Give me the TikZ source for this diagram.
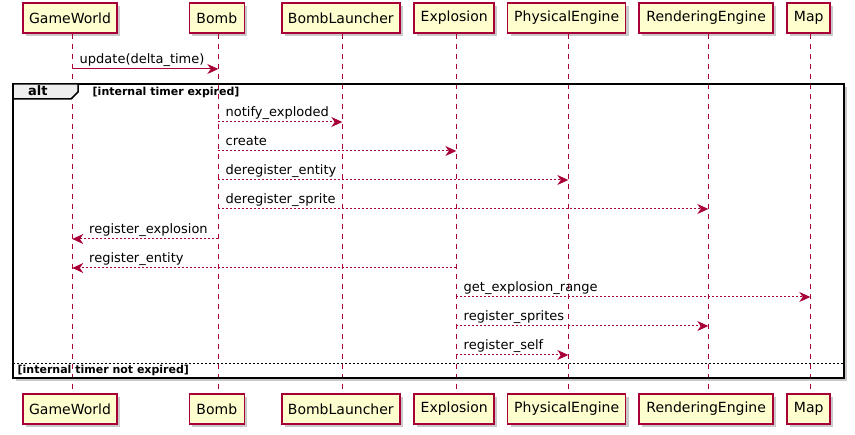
\documentclass[tikz,border=0pt]{standalone}
\usepackage{fontspec}
\setmainfont{DejaVu Sans}
\usetikzlibrary{arrows.meta,shadows}
\definecolor{pred}{HTML}{A80036}
\definecolor{pfill}{HTML}{FEFECE}
\definecolor{tabgray}{HTML}{EEEEEE}
\begin{document}
\begin{tikzpicture}[x=1pt,y=-1pt,
  part/.style={draw=pred, fill=pfill, line width=1.5pt, minimum height=30pt, inner sep=0pt,
    font=\fontsize{14}{16}\selectfont,
    drop shadow={shadow xshift=3pt, shadow yshift=-3pt, opacity=0.3, fill=black!70}},
  life/.style={draw=pred, line width=1pt, dash pattern=on 5pt off 5pt},
  call/.style={draw=pred, line width=1pt, -{Stealth[length=11pt,width=10pt,inset=3.5pt]}},
  reply/.style={call, dash pattern=on 2pt off 2pt},
  lbl/.style={anchor=base west, inner sep=0pt, font=\fontsize{13}{15}\selectfont},
  grp/.style={anchor=base west, inner sep=0pt, font=\bfseries\fontsize{11}{13}\selectfont},
  frm/.style={draw=black, line width=2pt}
  ]
\useasboundingbox (0,0) rectangle (855,435);

% lifeline x positions
\coordinate (gw) at (72.3,0);
\coordinate (bo) at (218.3,0);
\coordinate (bl) at (342.3,0);
\coordinate (ex) at (456.3,0);
\coordinate (pe) at (568.3,0);
\coordinate (re) at (708.3,0);
\coordinate (mp) at (810.3,0);

% frame (drawn first so lifelines go over it)
\path[fill=white, drop shadow={shadow xshift=3pt, shadow yshift=-3pt, opacity=0.3, fill=black!70}]
  (13,84) rectangle (844,378);

% participants top
\node[part, minimum width=94pt]  (gwT) at (70,18)    {GameWorld};
\node[part, minimum width=55pt]  (boT) at (216.8,18) {Bomb};
\node[part, minimum width=118pt] (blT) at (340.8,18) {BombLauncher};
\node[part, minimum width=80pt]  (exT) at (454.2,18) {Explosion};
\node[part, minimum width=118pt] (peT) at (566.7,18) {PhysicalEngine};
\node[part, minimum width=134pt] (reT) at (706.2,18) {RenderingEngine};
\node[part, minimum width=43pt]  (mpT) at (808.7,18) {Map};
% participants bottom
\node[part, minimum width=94pt]  (gwB) at (70,409)    {GameWorld};
\node[part, minimum width=55pt]  (boB) at (216.8,409) {Bomb};
\node[part, minimum width=118pt] (blB) at (340.8,409) {BombLauncher};
\node[part, minimum width=80pt]  (exB) at (454.2,409) {Explosion};
\node[part, minimum width=118pt] (peB) at (566.7,409) {PhysicalEngine};
\node[part, minimum width=134pt] (reB) at (706.2,409) {RenderingEngine};
\node[part, minimum width=43pt]  (mpB) at (808.7,409) {Map};

% lifelines
\foreach \p in {gw,bo,bl,ex,pe,re,mp}
  \draw[life] (\p |- \p T.south) -- (\p |- \p B.north);

% frame border and tab
\draw[frm] (13,84) rectangle (844,378);
\draw[line width=1.5pt, fill=tabgray] (13,84) -- (78,84) -- (78,92) -- (71,99) -- (13,99) -- cycle;
\node[anchor=base west, inner sep=0pt, font=\bfseries\fontsize{13}{15}\selectfont] (alt) at (28,96) {alt};
\node[grp] (c1) at (92.5,96) {[internal timer expired]};
\draw[line width=1pt, dash pattern=on 2pt off 2pt] (13,364) -- (844,364);
\node[grp] (c2) at (17.5,374) {[internal timer not expired]};

% messages
\draw[call]  (gw |- 0,69)  -- (bo |- 0,69);
\node[lbl] at (79.5,63.5) {update(delta\_time)};

\draw[reply] (bo |- 0,122) -- (bl |- 0,122);
\node[lbl] at (225.5,116.5) {notify\_exploded};

\draw[reply] (bo |- 0,151) -- (ex |- 0,151);
\node[lbl] at (225.5,145.5) {create};

\draw[reply] (bo |- 0,180) -- (pe |- 0,180);
\node[lbl] at (225.5,174.5) {deregister\_entity};

\draw[reply] (bo |- 0,209) -- (re |- 0,209);
\node[lbl] at (225.5,203.5) {deregister\_sprite};

\draw[reply] (bo |- 0,239) -- (gw |- 0,239);
\node[lbl] at (89,233.5) {register\_explosion};

\draw[reply] (ex |- 0,268) -- (gw |- 0,268);
\node[lbl] at (89,262.5) {register\_entity};

\draw[reply] (ex |- 0,297) -- (mp |- 0,297);
\node[lbl] at (463.5,291.5) {get\_explosion\_range};

\draw[reply] (ex |- 0,326) -- (re |- 0,326);
\node[lbl] at (463.5,320.5) {register\_sprites};

\draw[reply] (ex |- 0,355) -- (pe |- 0,355);
\node[lbl] at (463.5,349.5) {register\_self};
\end{tikzpicture}
\end{document}
